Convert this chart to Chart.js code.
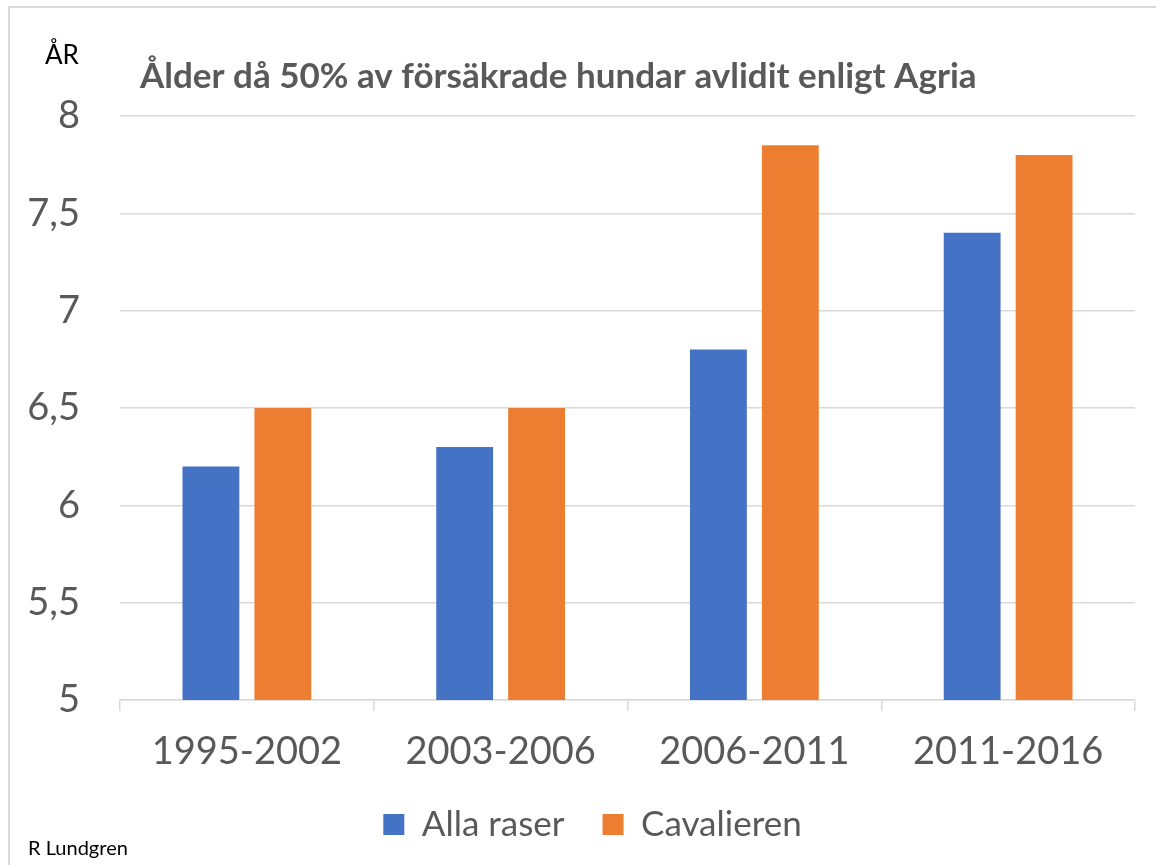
<!DOCTYPE html>
<html>
<head>
<meta charset="utf-8">
<script src="https://cdn.jsdelivr.net/npm/chart.js@4/dist/chart.umd.min.js"></script>
<style>
  body { margin: 0; background: #fff; }
  #wrap { width: 1156px; height: 865px; }
</style>
</head>
<body>
<div id="wrap"><canvas id="chart" width="1156" height="865"></canvas></div>
<script>
"use strict"

// data
const perioder = ['1995-2002', '2003-2006', '2006-2011', '2011-2016'];
const allaRaser = [6.2, 6.3, 6.8, 7.4];
const cavalieren = [6.5, 6.5, 7.85, 7.8];
const yMin = 5;
const yMax = 8;
const yStep = 0.5;

const grey = '#595959';
const font = 'Lato, "Open Sans", sans-serif';

// title, axis unit and signature, plus the thin frame
const extraText = {
	id: 'extraText',
	afterLayout(chart) {
		// legend sits a bit right of centre in the original
		chart.legend.left += 50;
	},
	beforeDraw(chart) {
		const ctx = chart.ctx;
		ctx.save();
		ctx.fillStyle = '#fff';
		ctx.fillRect(0, 0, chart.width, chart.height);
		ctx.strokeStyle = '#D9D9D9';
		ctx.lineWidth = 2;
		ctx.beginPath();
		ctx.moveTo(9, chart.height);
		ctx.lineTo(9, 7);
		ctx.lineTo(chart.width, 7);
		ctx.stroke();
		ctx.restore();
	},
	afterDraw(chart) {
		const ctx = chart.ctx;
		ctx.save();
		ctx.textBaseline = 'alphabetic';
		ctx.textAlign = 'left';
		ctx.fillStyle = grey;
		ctx.font = 'bold 35px ' + font;
		ctx.fillText('Ålder då 50% av försäkrade hundar avlidit enligt Agria', 140, 88);
		ctx.fillStyle = '#000';
		ctx.font = '26px ' + font;
		ctx.fillText('ÅR', 45, 64);
		ctx.font = '20px ' + font;
		ctx.fillText('R Lundgren', 28, 855);
		ctx.restore();
	}
};

new Chart(
	document.getElementById('chart'),
	{
		type: 'bar',
		data: {
			labels: perioder,
			datasets: [
				{
					label: 'Alla raser',
					data: allaRaser,
					backgroundColor: '#4472C4',
				},
				{
					label: 'Cavalieren',
					data: cavalieren,
					backgroundColor: '#ED7D31',
				}
			]
		},
		options: {
			responsive: false,
			animation: false,
			categoryPercentage: 0.567,
			barPercentage: 0.79,
			layout: {
				padding: { left: 0, right: 21, top: 116, bottom: 13 }
			},
			plugins: {
				title: { display: false },
				tooltip: { enabled: false },
				legend: {
					position: 'bottom',
					labels: {
						boxWidth: 21,
						boxHeight: 21,
						padding: 38,
						color: grey,
						font: { family: font, size: 35 }
					}
				}
			},
			scales: {
				x: {
					afterFit(scale) { scale.height = 69; },
					grid: {
						offset: true,
						drawOnChartArea: false,
						tickLength: 11,
						color: '#D9D9D9',
						lineWidth: 1.5
					},
					border: { color: '#D9D9D9', width: 1.5 },
					ticks: {
						padding: 18,
						color: grey,
						font: { family: font, size: 38 }
					}
				},
				y: {
					min: yMin,
					max: yMax,
					afterFit(scale) { scale.width = 120; },
					grid: {
						drawTicks: false,
						color: '#D9D9D9',
						lineWidth: 1.5
					},
					border: { display: false },
					ticks: {
						stepSize: yStep,
						padding: 40,
						color: grey,
						font: { family: font, size: 38 },
						callback: (v) => String(v).replace('.', ',')
					}
				}
			}
		},
		plugins: [extraText]
	}
);
</script>
</body>
</html>
